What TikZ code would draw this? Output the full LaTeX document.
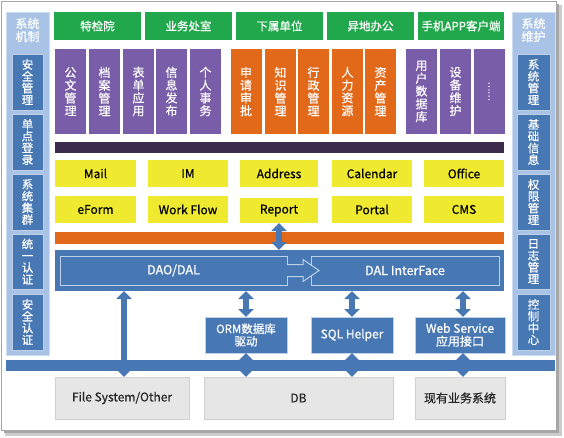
\documentclass[tikz,border=0pt]{standalone}
\usepackage{fontspec}
\setmainfont{Noto Sans CJK SC}[RawFeature={embolden=0.6}]
\usetikzlibrary{arrows.meta,calc}
\definecolor{cgreen}{RGB}{34,168,76}
\definecolor{cpurple}{RGB}{122,93,168}
\definecolor{corange}{RGB}{226,105,26}
\definecolor{cdark}{RGB}{61,43,78}
\definecolor{cyellow}{RGB}{239,234,47}
\definecolor{cblue}{RGB}{72,120,180}
\definecolor{cedge}{RGB}{190,208,232}
\definecolor{cpanel}{RGB}{169,195,230}
\definecolor{cpaneledge}{RGB}{205,220,240}
\definecolor{cgray}{RGB}{230,230,230}
\definecolor{cgrayd}{RGB}{208,208,208}
\begin{document}
\begin{tikzpicture}[x=1pt,y=-1pt,
  box/.style={inner sep=0pt, outer sep=0pt, text=white, align=center, font=\fontsize{11}{12}\selectfont},
  grn/.style={box, fill=cgreen, minimum height=28pt, minimum width=87pt, font=\fontsize{11.5}{12}\selectfont},
  vb/.style={box, minimum width=31pt, minimum height=85pt, font=\fontsize{12}{12.8}\selectfont},
  pur/.style={vb, fill=cpurple},
  org/.style={vb, fill=corange},
  yel/.style={box, fill=cyellow, text=black, minimum height=27pt, font=\fontsize{12}{13}\selectfont},
  side/.style={box, fill=cblue, draw=cedge, line width=0.8pt, minimum width=31pt, minimum height=56pt, font=\fontsize{11.5}{11.8}\selectfont},
  panel/.style={box, fill=cpanel, draw=cpaneledge, line width=1pt},
  bb/.style={box, fill=cblue, draw=cedge, line width=0.6pt, font=\fontsize{12}{13}\selectfont},
  gb/.style={box, fill=cgray, draw=cgrayd, text=black!85, minimum height=42pt, font=\fontsize{12}{13}\selectfont},
  dbl/.style={line width=6pt, draw=cblue, {Triangle[width=15pt,length=8pt]}-{Triangle[width=15pt,length=8pt]}}
]
\useasboundingbox (0,0) rectangle (564,437);
% frame with shadow
\fill[black!20] (5,5) rectangle (562,436);
\fill[black!35] (4,4) rectangle (559,433);
\draw[fill=white, draw=black!35, line width=1pt] (1,1) rectangle (556,430);

% side panels
\node[panel, minimum width=43pt, minimum height=343pt] (lp) at (27.5,183.5) {};
\node[box, anchor=north, font=\fontsize{12}{13}\selectfont] (lpt) at (27.5,18) {系统\\机制};
\node[side] (l1) at (27.5,82) {安\\全\\管\\理};
\node[side] (l2) at (27.5,142) {单\\点\\登\\录};
\node[side] (l3) at (27.5,202) {系\\统\\集\\群};
\node[side, minimum height=55pt] (l4) at (27.5,261.5) {统\\一\\认\\证};
\node[side] (l5) at (27.5,322) {安\\全\\认\\证};

\node[panel, minimum width=43pt, minimum height=343pt] (rp) at (533.5,183.5) {};
\node[box, anchor=north, font=\fontsize{12}{13}\selectfont] (rpt) at (533.5,18) {系统\\维护};
\node[side, minimum width=33pt] (r1) at (533.5,82) {系\\统\\管\\理};
\node[side, minimum width=33pt] (r2) at (533.5,142) {基\\础\\信\\息};
\node[side, minimum width=33pt] (r3) at (533.5,202) {权\\限\\管\\理};
\node[side, minimum width=33pt, minimum height=55pt] (r4) at (533.5,261.5) {日\\志\\管\\理};
\node[side, minimum width=33pt] (r5) at (533.5,322) {控\\制\\中\\心};

% green row
\node[grn] (g1) at (97.5,26) {特检院};
\node[grn] (g2) at (188.5,26) {业务处室};
\node[grn] (g3) at (279.5,26) {下属单位};
\node[grn] (g4) at (370.5,26) {异地办公};
\node[grn, minimum width=86pt] (g5) at (461,26) {手机APP客户端};

% tall boxes
\node[pur] (p1) at (70.5,91.5) {公\\文\\管\\理};
\node[pur] (p2) at (104.5,91.5) {档\\案\\管\\理};
\node[pur] (p3) at (138.5,91.5) {表\\单\\应\\用};
\node[pur] (p4) at (171.5,91.5) {信\\息\\发\\布};
\node[pur] (p5) at (205.5,91.5) {个\\人\\事\\务};
\node[org] (o1) at (246,91.5) {申\\请\\审\\批};
\node[org] (o2) at (280.5,91.5) {知\\识\\管\\理};
\node[org] (o3) at (313.5,91.5) {行\\政\\管\\理};
\node[org] (o4) at (347.5,91.5) {人\\力\\资\\源};
\node[org] (o5) at (380.5,91.5) {资\\产\\管\\理};
\node[pur] (p6) at (421.5,91.5) {用\\户\\数\\据\\库};
\node[pur] (p7) at (455.5,91.5) {设\\备\\维\\护};
\node[pur] (p8) at (489,91.5) {};
\node[box, rotate=90, font=\fontsize{9}{10}\selectfont] (p8t) at (p8.center) {……};

% dark bar
\fill[cdark] (55,142) rectangle (504,153);

% yellow rows
\node[yel, minimum width=81pt] (y1) at (95.5,173.5) {Mail};
\node[yel, minimum width=80pt] (y2) at (188,173.5) {IM};
\node[yel, minimum width=78pt] (y3) at (279,173.5) {Address};
\node[yel, minimum width=80pt] (y4) at (372,173.5) {Calendar};
\node[yel, minimum width=80pt] (y5) at (464,173.5) {Office};
\node[yel, minimum width=81pt] (y6) at (95.5,209.5) {eForm};
\node[yel, minimum width=80pt] (y7) at (188,209.5) {Work Flow};
\node[yel, minimum width=78pt, minimum height=25pt] (y8) at (279,210.5) {Report};
\node[yel, minimum width=80pt] (y9) at (372,209.5) {Portal};
\node[yel, minimum width=80pt] (y10) at (464,209.5) {CMS};

% orange bar
\fill[corange] (55,232) rectangle (504,244);

% DAO panel
\node[box, fill=cblue, minimum width=449pt, minimum height=41pt] (dp) at (279.5,270.5) {};
\node[bb, draw=cedge, line width=1pt, minimum width=227pt, minimum height=29pt, font=\fontsize{12.5}{13}\selectfont] (dao) at (173.5,270.5) {DAO/DAL};
\node[bb, draw=cedge, line width=1pt, minimum width=188pt, minimum height=29pt, font=\fontsize{12.5}{13}\selectfont] (dal) at (405,270.5) {DAL InterFace};
% hollow arrow between DAO and DAL
\draw[cedge, fill=cblue, line width=1pt]
  ($(dao.east)+(0,-6)$) -- ++(16,0) -- ++(0,-5) -- ($(dal.west)+(8,0)$) -- ($(dao.east)+(16,11)$) -- ++(0,-5) -- ($(dao.east)+(0,6)$);

% middle boxes
\node[bb, minimum width=82pt, minimum height=36pt, font=\fontsize{11.5}{12.5}\selectfont] (orm) at (246,335) {ORM数据库\\驱动};
\node[bb, minimum width=82pt, minimum height=36pt] (sql) at (352,335) {SQL Helper};
\node[bb, minimum width=90pt, minimum height=36pt, font=\fontsize{12}{13}\selectfont] (web) at (460,335) {Web Service\\应用接口};

% bottom bar
\fill[cblue] (6,360) rectangle (555,371);

% gray boxes
\node[gb, minimum width=134pt] (fs) at (122,398) {File System/Other};
\node[gb, minimum width=189pt] (db) at (298.5,398) {DB};
\node[gb, minimum width=90pt] (ex) at (460,398) {现有业务系统};

% double arrows
\draw[dbl] (y8.south) -- (y8.south |- dp.north);
\draw[dbl] ($(fs.north |- dp.south)+(2,0)$) -- ($(fs.north)+(2,0)$);
\draw[dbl] (orm.north |- dp.south) -- (orm.north);
\draw[dbl] (sql.north |- dp.south) -- (sql.north);
\draw[dbl] ($(web.north |- dp.south)+(3,0)$) -- ($(web.north)+(3,0)$);
\draw[dbl] (orm.south) -- (orm.south |- db.north);
\draw[dbl] (sql.south) -- (sql.south |- db.north);
\draw[dbl] ($(web.south)+(3,0)$) -- ($(ex.north)+(3,0)$);
\end{tikzpicture}
\end{document}
